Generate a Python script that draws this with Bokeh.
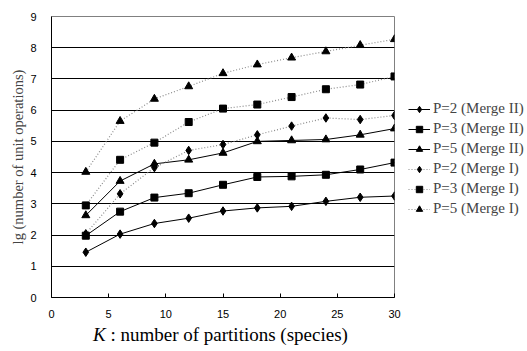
from bokeh.plotting import figure
from bokeh.models import Legend, LegendItem, FixedTicker, Range1d, Div
from bokeh.layouts import column
from bokeh.embed import file_html
from bokeh.resources import INLINE

K = [3, 6, 9, 12, 15, 18, 21, 24, 27, 30]
p2_m2 = [1.45, 2.03, 2.37, 2.54, 2.77, 2.87, 2.92, 3.08, 3.21, 3.25]
p3_m2 = [1.98, 2.75, 3.20, 3.34, 3.61, 3.86, 3.88, 3.93, 4.10, 4.32]
p5_m2 = [2.63, 3.73, 4.28, 4.41, 4.63, 5.00, 5.03, 5.06, 5.21, 5.41]
p2_m1 = [2.04, 3.32, 4.16, 4.71, 4.90, 5.21, 5.49, 5.75, 5.70, 5.83]
p3_m1 = [2.95, 4.41, 4.96, 5.62, 6.05, 6.18, 6.42, 6.67, 6.82, 7.08]
p5_m1 = [4.02, 5.65, 6.36, 6.76, 7.18, 7.46, 7.68, 7.88, 8.08, 8.27]
x_ticks = [0, 5, 10, 15, 20, 25, 30]
y_ticks = [0, 1, 2, 3, 4, 5, 6, 7, 8, 9]

series = [
    ("P=2 (Merge II)", p2_m2, "diamond", "solid"),
    ("P=3 (Merge II)", p3_m2, "square", "solid"),
    ("P=5 (Merge II)", p5_m2, "triangle", "solid"),
    ("P=2 (Merge I)", p2_m1, "diamond", "dotted"),
    ("P=3 (Merge I)", p3_m1, "square", "dotted"),
    ("P=5 (Merge I)", p5_m1, "triangle", "dotted"),
]
msize = {"diamond": 8.5, "square": 7, "triangle": 8}

p = figure(frame_width=343, frame_height=281, output_backend="svg", toolbar_location=None,
           x_range=Range1d(0, 30), y_range=Range1d(0, 9),
           min_border_left=51, min_border_right=125, min_border_top=16, min_border_bottom=24)
p.background_fill_color = "white"
p.border_fill_color = "white"
p.outline_line_color = "#808080"
p.xgrid.visible = False
p.ygrid.ticker = FixedTicker(ticks=y_ticks)
p.ygrid.grid_line_color = "black"
p.ygrid.grid_line_width = 1

p.xaxis.ticker = FixedTicker(ticks=x_ticks)
p.yaxis.ticker = FixedTicker(ticks=y_ticks)
for ax in (p.xaxis, p.yaxis):
    ax.axis_line_color = "black"
    ax.major_label_text_font = "Liberation Sans"
    ax.major_label_text_font_size = "11px"
    ax.major_label_text_color = "black"
    ax.minor_tick_line_color = None
p.xaxis.major_tick_in = 4
p.xaxis.major_tick_out = 0
p.xaxis.major_tick_line_color = "black"
p.xaxis.major_label_standoff = 12
p.yaxis.major_tick_line_color = None
p.yaxis.major_label_standoff = 9
p.yaxis.axis_label = "lg (number of unit operations)"
p.yaxis.axis_label_text_font = "Liberation Serif"
p.yaxis.axis_label_text_font_style = "normal"
p.yaxis.axis_label_text_font_size = "14.5px"
p.yaxis.axis_label_standoff = 1

items = []
for name, ys, marker, style in series:
    if style == "solid":
        ln = p.line(K, ys, line_color="black", line_width=1)
    else:
        ln = p.line(K, ys, line_color="#8a8a8a", line_width=1.2, line_dash="1 2")
    sc = p.scatter(K, ys, marker=marker, size=msize[marker],
                   fill_color="black", line_color="black")
    items.append(LegendItem(label=name, renderers=[ln, sc]))

legend = Legend(items=items, location=(14, 80), padding=0, margin=0,
                spacing=3, glyph_height=16, label_height=16, glyph_width=22,
                label_standoff=3, label_text_font="Liberation Serif",
                label_text_font_size="15px", border_line_color=None,
                background_fill_alpha=0)
p.add_layout(legend, "right")

title = Div(text="<i>K</i> : number of partitions (species)", width=511, height=28,
            margin=(0, 0, 0, 0),
            styles={"font-family": "Liberation Serif", "font-size": "19px",
                    "padding-left": "93px", "line-height": "28px", "color": "black",
                    "white-space": "nowrap"})

layout = column(p, title, spacing=0)
open("out.html", "w").write(file_html(layout, INLINE))
